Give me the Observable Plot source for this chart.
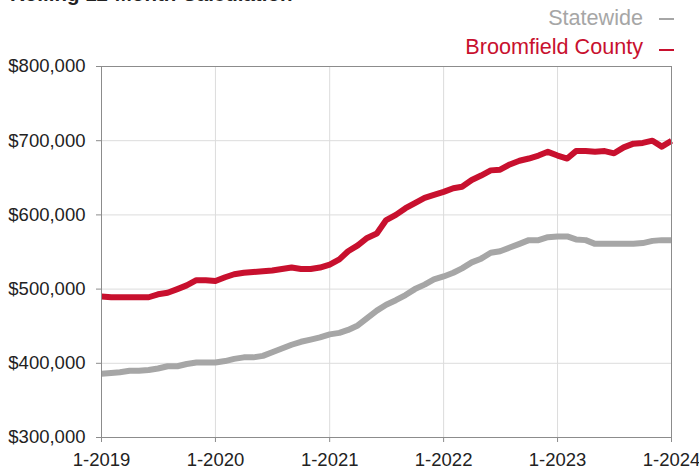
<!DOCTYPE html>
<html>
<head>
<meta charset="utf-8">
<script src="https://cdn.jsdelivr.net/npm/d3@7"></script>
<script src="https://cdn.jsdelivr.net/npm/@observablehq/plot@0.6"></script>
<style>
  body { margin: 0; background: #fff; font-family: Helvetica, Arial, "Liberation Sans", sans-serif; }
  #wrap { position: relative; width: 699px; height: 468px; overflow: hidden; }
  #wrap svg { position: absolute; left: 0; top: 0; }
  #title { position: absolute; left: 10px; top: -16.4px; font-size: 20.5px; line-height: 20.5px; font-weight: bold; color: #222; white-space: nowrap; }
  .leg { position: absolute; right: 56px; font-size: 21.6px; line-height: 21.6px; white-space: nowrap; }
  .dash { position: absolute; left: 659px; width: 15px; height: 2px; }
</style>
</head>
<body>
<div id="wrap">
  <div id="title">Rolling 12-Month Calculation</div>
  <div class="leg" id="leg0" style="top:6.7px;color:#a6a6a6">Statewide</div>
  <div class="dash" style="top:17.5px;background:#a6a6a6"></div>
  <div class="leg" id="leg1" style="top:36.2px;color:#c8102e">Broomfield County</div>
  <div class="dash" style="top:48.5px;background:#c8102e"></div>
</div>
<script>
// Monthly rolling 12-month median sales price, 1-2019 through 1-2024
const seriesNames = ["Statewide", "Broomfield County"];
const seriesColors = ["#a6a6a6", "#c8102e"];

const statewide = [
  386000, 387000, 388000, 390000, 390000, 391000, 393000, 396000, 396000, 399000, 401000, 401000,
  401000, 403000, 406000, 408000, 408000, 410000, 415000, 420000, 425000, 429000, 432000, 435000,
  439000, 441000, 445000, 451000, 461000, 471000, 479000, 485000, 492000, 500000, 506000, 513000,
  517000, 522000, 528000, 536000, 541000, 549000, 551000, 556000, 561000, 566000, 566000, 570000,
  571000, 571000, 567000, 566000, 561000, 561000, 561000, 561000, 561000, 562000, 565000, 566000,
  566000
];

const broomfield = [
  490000, 489000, 489000, 489000, 489000, 489000, 493000, 495000, 500000, 505000, 512000, 512000,
  511000, 516000, 520000, 522000, 523000, 524000, 525000, 527000, 529000, 527000, 527000, 529000,
  533000, 540000, 551000, 559000, 569000, 575000, 593000, 600000, 609000, 616000, 623000, 627000,
  631000, 636000, 638000, 647000, 653000, 660000, 661000, 668000, 673000, 676000, 680000, 685000,
  680000, 676000, 686000, 686000, 685000, 686000, 683000, 691000, 696000, 697000, 700000, 692000,
  700000
];

const yTicks = [300000, 400000, 500000, 600000, 700000, 800000];
const xTickYears = [2019, 2020, 2021, 2022, 2023, 2024];

const months = d3.utcMonth.range(new Date(Date.UTC(2019, 0, 1)), new Date(Date.UTC(2024, 0, 2)));
const xTickDates = xTickYears.map(y => new Date(Date.UTC(y, 0, 1)));

const data = [];
months.forEach((d, i) => data.push({date: d, value: statewide[i], series: seriesNames[0]}));
months.forEach((d, i) => data.push({date: d, value: broomfield[i], series: seriesNames[1]}));

const fmt = d3.format(",");
const chart = Plot.plot({
  width: 699,
  height: 468,
  marginLeft: 101,
  marginRight: 28,
  marginTop: 66,
  marginBottom: 31,
  style: {fontFamily: "Helvetica, Arial, 'Liberation Sans', sans-serif", fontSize: "18.5px", color: "#222", background: "transparent", overflow: "visible"},
  x: {type: "utc", domain: [xTickDates[0], xTickDates[xTickDates.length - 1]], label: null},
  y: {domain: [yTicks[0], yTicks[yTicks.length - 1]], label: null},
  color: {domain: seriesNames, range: seriesColors},
  marks: [
    Plot.gridX(xTickDates, {stroke: "#dcdcdc", strokeOpacity: 1, strokeWidth: 1}),
    Plot.gridY(yTicks, {stroke: "#dcdcdc", strokeOpacity: 1, strokeWidth: 1}),
    Plot.lineY(data, {x: "date", y: "value", z: "series", stroke: "series", strokeWidth: 6, strokeLinejoin: "round", strokeLinecap: "butt"}),
    Plot.frame({stroke: "#8c8c8c", strokeWidth: 1}),
    Plot.axisX(xTickDates, {label: null, tickSize: 5, tickPadding: 10, stroke: "#8c8c8c", fill: "#222", fontSize: 18.5, tickFormat: d => `1-${d.getUTCFullYear()}`}),
    Plot.axisY(yTicks, {label: null, tickSize: 5, tickPadding: 11, stroke: "#8c8c8c", fill: "#222", fontSize: 18.5, tickFormat: d => "$" + fmt(d)})
  ]
});
document.getElementById("wrap").prepend(chart);
</script>
</body>
</html>
